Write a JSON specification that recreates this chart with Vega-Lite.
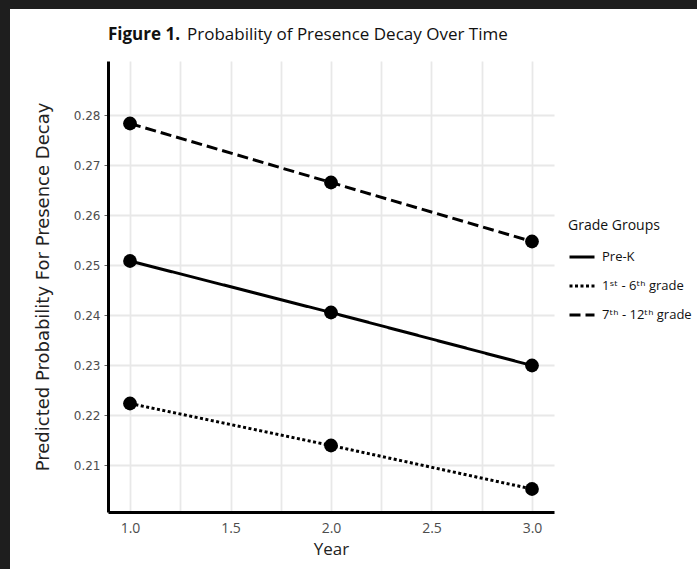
{
  "$schema": "https://vega.github.io/schema/vega-lite/v6.json",
  "background": "white",
  "padding": 0,
  "config": {"view": {"stroke": null}},
  "spacing": 0,
  "hconcat": [
    {
      "width": 10, "height": 569,
      "view": {"fill": "#1e1e1e", "stroke": null},
      "data": {"values": []},
      "mark": "point"
    },
    {
      "spacing": 17,
      "vconcat": [
        {
          "width": 687, "height": 9,
          "view": {"fill": "#1e1e1e", "stroke": null},
          "data": {"values": []},
          "mark": "point"
        },
        {
          "spacing": 23,
          "hconcat": [
            {
              "width": 1, "height": 1,
              "view": {"fill": null, "stroke": null},
              "data": {"values": []},
              "mark": "point"
            },
            {
              "width": 446, "height": 451,
              "view": {"fill": "white", "stroke": null},
              "title": {
                "text": "Figure 1.",
                "subtitle": "Probability of Presence Decay Over Time",
                "anchor": "start", "frame": "group",
                "font": "Open Sans", "fontSize": 17, "fontWeight": "bold", "color": "#111111",
                "subtitleFont": "Open Sans", "subtitleFontSize": 17, "subtitleFontWeight": "normal", "subtitleColor": "#111111",
                "subtitlePadding": -17, "dx": 79, "offset": 17,
                "encoding": {"dx": {"value": 0}}
              },
              "data": {"values": [
                {"year": 1, "prob": 0.2508, "group": "Pre-K"},
                {"year": 2, "prob": 0.2405, "group": "Pre-K"},
                {"year": 3, "prob": 0.2299, "group": "Pre-K"},
                {"year": 1, "prob": 0.2223, "group": "1st - 6th grade"},
                {"year": 2, "prob": 0.2139, "group": "1st - 6th grade"},
                {"year": 3, "prob": 0.2052, "group": "1st - 6th grade"},
                {"year": 1, "prob": 0.2783, "group": "7th - 12th grade"},
                {"year": 2, "prob": 0.2665, "group": "7th - 12th grade"},
                {"year": 3, "prob": 0.2547, "group": "7th - 12th grade"}
              ]},
              "encoding": {
                "x": {
                  "field": "year", "type": "quantitative",
                  "scale": {"domain": [0.8905, 3.1095], "nice": false, "zero": false},
                  "axis": {
                    "title": "Year", "titleFont": "Open Sans", "titleFontSize": 17, "titleFontWeight": "normal", "titleColor": "#222222", "titlePadding": 6,
                    "values": [1, 1.25, 1.5, 1.75, 2, 2.25, 2.5, 2.75, 3],
                    "labelExpr": "(datum.value * 2) % 1 == 0 ? format(datum.value, '.1f') : ''",
                    "labelFont": "Open Sans", "labelFontSize": 14, "labelColor": "#4d4d4d", "labelPadding": 9,
                    "ticks": false, "tickSize": 0,
                    "domainColor": "black", "domainWidth": 3,
                    "grid": true, "gridColor": "#e8e8e8", "gridWidth": 1.8
                  }
                },
                "y": {
                  "field": "prob", "type": "quantitative",
                  "scale": {"domain": [0.2006, 0.2908], "nice": false, "zero": false},
                  "axis": {
                    "title": "Predicted Probability For Presence Decay", "titleFont": "DejaVu Sans", "titleFontSize": 18, "titleFontWeight": "normal", "titleColor": "#222222", "titlePadding": 21,
                    "values": [0.21, 0.22, 0.23, 0.24, 0.25, 0.26, 0.27, 0.28],
                    "format": ".2f",
                    "labelFont": "DejaVu Sans", "labelFontSize": 12, "labelColor": "#4d4d4d", "labelPadding": 4,
                    "ticks": true, "tickSize": 4, "tickColor": "#666666", "tickWidth": 1,
                    "domainColor": "black", "domainWidth": 3,
                    "grid": true, "gridColor": "#e8e8e8", "gridWidth": 1.8
                  }
                }
              },
              "layer": [
                {
                  "mark": {"type": "line", "strokeWidth": 3, "color": "black"},
                  "encoding": {
                    "strokeDash": {
                      "field": "group", "type": "nominal",
                      "scale": {"domain": ["Pre-K", "1st - 6th grade", "7th - 12th grade"], "range": [[1, 0], [3, 2.5], [11, 5]]},
                      "legend": {
                        "title": "Grade Groups", "orient": "none", "legendX": 568, "legendY": 219,
                        "titleFont": "Open Sans", "titleFontSize": 14, "titleFontWeight": "normal", "titleColor": "#111111", "titlePadding": 10,
                        "labelFont": "Open Sans, DejaVu Sans", "labelFontSize": 13, "labelColor": "#111111", "labelOffset": 6,
                        "labelExpr": "datum.label == '1st - 6th grade' ? '1ˢᵗ - 6ᵗʰ grade' : datum.label == '7th - 12th grade' ? '7ᵗʰ - 12ᵗʰ grade' : datum.label",
                        "symbolType": "stroke", "symbolSize": 625, "symbolStrokeWidth": 3, "symbolStrokeColor": "black",
                        "rowPadding": 8, "padding": 0
                      }
                    }
                  }
                },
                {
                  "mark": {"type": "circle", "size": 190, "color": "black", "opacity": 1},
                  "encoding": {"detail": {"field": "group", "type": "nominal"}}
                }
              ]
            }
          ]
        }
      ]
    }
  ]
}
